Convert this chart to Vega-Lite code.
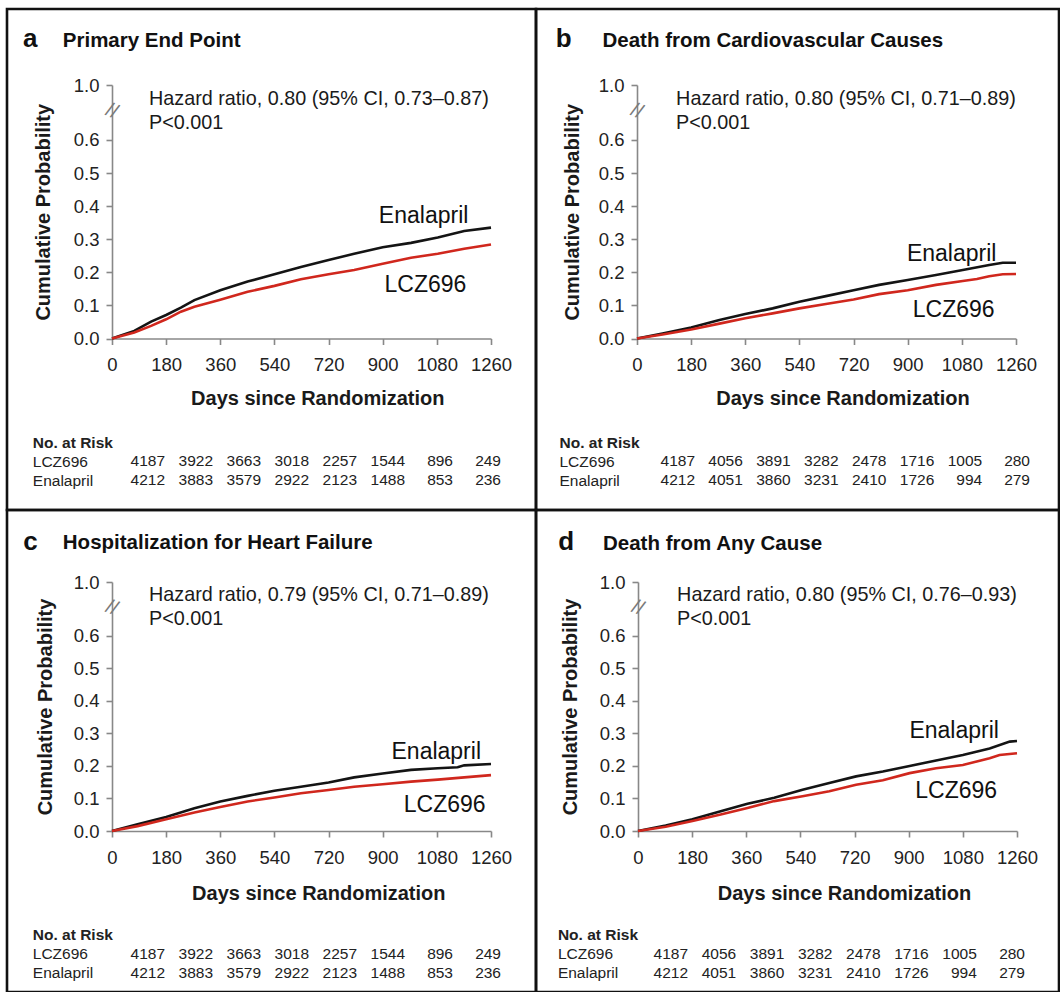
{
  "$schema": "https://vega.github.io/schema/vega-lite/v6.json",
  "padding": {"left": 5, "top": 7, "right": 0, "bottom": 0},
  "config": {
    "font": "Liberation Sans",
    "view": {"stroke": "#111111", "strokeWidth": 2.6},
    "axis": {"grid": false}
  },
  "datasets": {
    "curves": [
      {"panel":"a","group":"Enalapril","day":0,"p":0},{"panel":"a","group":"Enalapril","day":74,"p":0.023},{"panel":"a","group":"Enalapril","day":130,"p":0.051},{"panel":"a","group":"Enalapril","day":180,"p":0.071},{"panel":"a","group":"Enalapril","day":229,"p":0.093},{"panel":"a","group":"Enalapril","day":274,"p":0.116},{"panel":"a","group":"Enalapril","day":360,"p":0.146},{"panel":"a","group":"Enalapril","day":451,"p":0.172},{"panel":"a","group":"Enalapril","day":540,"p":0.194},{"panel":"a","group":"Enalapril","day":628,"p":0.216},{"panel":"a","group":"Enalapril","day":720,"p":0.237},{"panel":"a","group":"Enalapril","day":805,"p":0.256},{"panel":"a","group":"Enalapril","day":900,"p":0.276},{"panel":"a","group":"Enalapril","day":994,"p":0.289},{"panel":"a","group":"Enalapril","day":1083,"p":0.305},{"panel":"a","group":"Enalapril","day":1171,"p":0.325},{"panel":"a","group":"Enalapril","day":1260,"p":0.335},
      {"panel":"a","group":"LCZ696","day":0,"p":0},{"panel":"a","group":"LCZ696","day":74,"p":0.018},{"panel":"a","group":"LCZ696","day":130,"p":0.038},{"panel":"a","group":"LCZ696","day":180,"p":0.058},{"panel":"a","group":"LCZ696","day":229,"p":0.081},{"panel":"a","group":"LCZ696","day":274,"p":0.096},{"panel":"a","group":"LCZ696","day":360,"p":0.117},{"panel":"a","group":"LCZ696","day":451,"p":0.141},{"panel":"a","group":"LCZ696","day":540,"p":0.159},{"panel":"a","group":"LCZ696","day":628,"p":0.179},{"panel":"a","group":"LCZ696","day":720,"p":0.194},{"panel":"a","group":"LCZ696","day":805,"p":0.207},{"panel":"a","group":"LCZ696","day":900,"p":0.226},{"panel":"a","group":"LCZ696","day":994,"p":0.244},{"panel":"a","group":"LCZ696","day":1083,"p":0.256},{"panel":"a","group":"LCZ696","day":1171,"p":0.271},{"panel":"a","group":"LCZ696","day":1260,"p":0.284},
      {"panel":"b","group":"Enalapril","day":0,"p":0},{"panel":"b","group":"Enalapril","day":85,"p":0.015},{"panel":"b","group":"Enalapril","day":180,"p":0.033},{"panel":"b","group":"Enalapril","day":274,"p":0.056},{"panel":"b","group":"Enalapril","day":360,"p":0.074},{"panel":"b","group":"Enalapril","day":451,"p":0.091},{"panel":"b","group":"Enalapril","day":540,"p":0.111},{"panel":"b","group":"Enalapril","day":628,"p":0.128},{"panel":"b","group":"Enalapril","day":720,"p":0.146},{"panel":"b","group":"Enalapril","day":805,"p":0.162},{"panel":"b","group":"Enalapril","day":900,"p":0.177},{"panel":"b","group":"Enalapril","day":994,"p":0.192},{"panel":"b","group":"Enalapril","day":1083,"p":0.207},{"panel":"b","group":"Enalapril","day":1171,"p":0.222},{"panel":"b","group":"Enalapril","day":1216,"p":0.229},{"panel":"b","group":"Enalapril","day":1260,"p":0.229},
      {"panel":"b","group":"LCZ696","day":0,"p":0},{"panel":"b","group":"LCZ696","day":85,"p":0.012},{"panel":"b","group":"LCZ696","day":180,"p":0.027},{"panel":"b","group":"LCZ696","day":274,"p":0.045},{"panel":"b","group":"LCZ696","day":360,"p":0.061},{"panel":"b","group":"LCZ696","day":451,"p":0.076},{"panel":"b","group":"LCZ696","day":540,"p":0.091},{"panel":"b","group":"LCZ696","day":628,"p":0.104},{"panel":"b","group":"LCZ696","day":720,"p":0.118},{"panel":"b","group":"LCZ696","day":805,"p":0.134},{"panel":"b","group":"LCZ696","day":900,"p":0.146},{"panel":"b","group":"LCZ696","day":994,"p":0.162},{"panel":"b","group":"LCZ696","day":1083,"p":0.174},{"panel":"b","group":"LCZ696","day":1130,"p":0.18},{"panel":"b","group":"LCZ696","day":1171,"p":0.188},{"panel":"b","group":"LCZ696","day":1216,"p":0.194},{"panel":"b","group":"LCZ696","day":1260,"p":0.195},
      {"panel":"c","group":"Enalapril","day":0,"p":0},{"panel":"c","group":"Enalapril","day":85,"p":0.021},{"panel":"c","group":"Enalapril","day":180,"p":0.043},{"panel":"c","group":"Enalapril","day":274,"p":0.07},{"panel":"c","group":"Enalapril","day":360,"p":0.091},{"panel":"c","group":"Enalapril","day":451,"p":0.108},{"panel":"c","group":"Enalapril","day":540,"p":0.124},{"panel":"c","group":"Enalapril","day":628,"p":0.136},{"panel":"c","group":"Enalapril","day":720,"p":0.149},{"panel":"c","group":"Enalapril","day":805,"p":0.165},{"panel":"c","group":"Enalapril","day":900,"p":0.177},{"panel":"c","group":"Enalapril","day":994,"p":0.188},{"panel":"c","group":"Enalapril","day":1083,"p":0.193},{"panel":"c","group":"Enalapril","day":1149,"p":0.196},{"panel":"c","group":"Enalapril","day":1171,"p":0.202},{"panel":"c","group":"Enalapril","day":1260,"p":0.206},
      {"panel":"c","group":"LCZ696","day":0,"p":0},{"panel":"c","group":"LCZ696","day":85,"p":0.015},{"panel":"c","group":"LCZ696","day":180,"p":0.036},{"panel":"c","group":"LCZ696","day":274,"p":0.057},{"panel":"c","group":"LCZ696","day":360,"p":0.074},{"panel":"c","group":"LCZ696","day":451,"p":0.091},{"panel":"c","group":"LCZ696","day":540,"p":0.103},{"panel":"c","group":"LCZ696","day":628,"p":0.116},{"panel":"c","group":"LCZ696","day":720,"p":0.126},{"panel":"c","group":"LCZ696","day":805,"p":0.136},{"panel":"c","group":"LCZ696","day":900,"p":0.144},{"panel":"c","group":"LCZ696","day":994,"p":0.152},{"panel":"c","group":"LCZ696","day":1083,"p":0.158},{"panel":"c","group":"LCZ696","day":1171,"p":0.165},{"panel":"c","group":"LCZ696","day":1260,"p":0.172},
      {"panel":"d","group":"Enalapril","day":0,"p":0},{"panel":"d","group":"Enalapril","day":92,"p":0.017},{"panel":"d","group":"Enalapril","day":181,"p":0.036},{"panel":"d","group":"Enalapril","day":275,"p":0.061},{"panel":"d","group":"Enalapril","day":364,"p":0.084},{"panel":"d","group":"Enalapril","day":453,"p":0.102},{"panel":"d","group":"Enalapril","day":547,"p":0.127},{"panel":"d","group":"Enalapril","day":636,"p":0.148},{"panel":"d","group":"Enalapril","day":725,"p":0.168},{"panel":"d","group":"Enalapril","day":814,"p":0.183},{"panel":"d","group":"Enalapril","day":903,"p":0.2},{"panel":"d","group":"Enalapril","day":991,"p":0.217},{"panel":"d","group":"Enalapril","day":1080,"p":0.234},{"panel":"d","group":"Enalapril","day":1169,"p":0.254},{"panel":"d","group":"Enalapril","day":1236,"p":0.275},{"panel":"d","group":"Enalapril","day":1260,"p":0.277},
      {"panel":"d","group":"LCZ696","day":0,"p":0},{"panel":"d","group":"LCZ696","day":92,"p":0.013},{"panel":"d","group":"LCZ696","day":181,"p":0.031},{"panel":"d","group":"LCZ696","day":275,"p":0.051},{"panel":"d","group":"LCZ696","day":364,"p":0.071},{"panel":"d","group":"LCZ696","day":453,"p":0.092},{"panel":"d","group":"LCZ696","day":547,"p":0.107},{"panel":"d","group":"LCZ696","day":636,"p":0.122},{"panel":"d","group":"LCZ696","day":725,"p":0.142},{"panel":"d","group":"LCZ696","day":814,"p":0.156},{"panel":"d","group":"LCZ696","day":903,"p":0.178},{"panel":"d","group":"LCZ696","day":991,"p":0.193},{"panel":"d","group":"LCZ696","day":1080,"p":0.203},{"panel":"d","group":"LCZ696","day":1169,"p":0.224},{"panel":"d","group":"LCZ696","day":1202,"p":0.234},{"panel":"d","group":"LCZ696","day":1260,"p":0.239}
    ],
    "risk": [
      {"panel":"a","row":"LCZ696","day":0,"n":"4187"},{"panel":"a","row":"LCZ696","day":180,"n":"3922"},{"panel":"a","row":"LCZ696","day":360,"n":"3663"},{"panel":"a","row":"LCZ696","day":540,"n":"3018"},{"panel":"a","row":"LCZ696","day":720,"n":"2257"},{"panel":"a","row":"LCZ696","day":900,"n":"1544"},{"panel":"a","row":"LCZ696","day":1080,"n":"896"},{"panel":"a","row":"LCZ696","day":1260,"n":"249"},
      {"panel":"a","row":"Enalapril","day":0,"n":"4212"},{"panel":"a","row":"Enalapril","day":180,"n":"3883"},{"panel":"a","row":"Enalapril","day":360,"n":"3579"},{"panel":"a","row":"Enalapril","day":540,"n":"2922"},{"panel":"a","row":"Enalapril","day":720,"n":"2123"},{"panel":"a","row":"Enalapril","day":900,"n":"1488"},{"panel":"a","row":"Enalapril","day":1080,"n":"853"},{"panel":"a","row":"Enalapril","day":1260,"n":"236"},
      {"panel":"b","row":"LCZ696","day":0,"n":"4187"},{"panel":"b","row":"LCZ696","day":180,"n":"4056"},{"panel":"b","row":"LCZ696","day":360,"n":"3891"},{"panel":"b","row":"LCZ696","day":540,"n":"3282"},{"panel":"b","row":"LCZ696","day":720,"n":"2478"},{"panel":"b","row":"LCZ696","day":900,"n":"1716"},{"panel":"b","row":"LCZ696","day":1080,"n":"1005"},{"panel":"b","row":"LCZ696","day":1260,"n":"280"},
      {"panel":"b","row":"Enalapril","day":0,"n":"4212"},{"panel":"b","row":"Enalapril","day":180,"n":"4051"},{"panel":"b","row":"Enalapril","day":360,"n":"3860"},{"panel":"b","row":"Enalapril","day":540,"n":"3231"},{"panel":"b","row":"Enalapril","day":720,"n":"2410"},{"panel":"b","row":"Enalapril","day":900,"n":"1726"},{"panel":"b","row":"Enalapril","day":1080,"n":"994"},{"panel":"b","row":"Enalapril","day":1260,"n":"279"},
      {"panel":"c","row":"LCZ696","day":0,"n":"4187"},{"panel":"c","row":"LCZ696","day":180,"n":"3922"},{"panel":"c","row":"LCZ696","day":360,"n":"3663"},{"panel":"c","row":"LCZ696","day":540,"n":"3018"},{"panel":"c","row":"LCZ696","day":720,"n":"2257"},{"panel":"c","row":"LCZ696","day":900,"n":"1544"},{"panel":"c","row":"LCZ696","day":1080,"n":"896"},{"panel":"c","row":"LCZ696","day":1260,"n":"249"},
      {"panel":"c","row":"Enalapril","day":0,"n":"4212"},{"panel":"c","row":"Enalapril","day":180,"n":"3883"},{"panel":"c","row":"Enalapril","day":360,"n":"3579"},{"panel":"c","row":"Enalapril","day":540,"n":"2922"},{"panel":"c","row":"Enalapril","day":720,"n":"2123"},{"panel":"c","row":"Enalapril","day":900,"n":"1488"},{"panel":"c","row":"Enalapril","day":1080,"n":"853"},{"panel":"c","row":"Enalapril","day":1260,"n":"236"},
      {"panel":"d","row":"LCZ696","day":0,"n":"4187"},{"panel":"d","row":"LCZ696","day":180,"n":"4056"},{"panel":"d","row":"LCZ696","day":360,"n":"3891"},{"panel":"d","row":"LCZ696","day":540,"n":"3282"},{"panel":"d","row":"LCZ696","day":720,"n":"2478"},{"panel":"d","row":"LCZ696","day":900,"n":"1716"},{"panel":"d","row":"LCZ696","day":1080,"n":"1005"},{"panel":"d","row":"LCZ696","day":1260,"n":"280"},
      {"panel":"d","row":"Enalapril","day":0,"n":"4212"},{"panel":"d","row":"Enalapril","day":180,"n":"4051"},{"panel":"d","row":"Enalapril","day":360,"n":"3860"},{"panel":"d","row":"Enalapril","day":540,"n":"3231"},{"panel":"d","row":"Enalapril","day":720,"n":"2410"},{"panel":"d","row":"Enalapril","day":900,"n":"1726"},{"panel":"d","row":"Enalapril","day":1080,"n":"994"},{"panel":"d","row":"Enalapril","day":1260,"n":"279"}
    ],
    "notes": [
      {"panel":"a","day":123,"p":0.724,"text":"Hazard ratio, 0.80 (95% CI, 0.73–0.87)"},{"panel":"a","day":123,"p":0.651,"text":"P<0.001"},
      {"panel":"b","day":130,"p":0.724,"text":"Hazard ratio, 0.80 (95% CI, 0.71–0.89)"},{"panel":"b","day":130,"p":0.651,"text":"P<0.001"},
      {"panel":"c","day":123,"p":0.727,"text":"Hazard ratio, 0.79 (95% CI, 0.71–0.89)"},{"panel":"c","day":123,"p":0.652,"text":"P<0.001"},
      {"panel":"d","day":130,"p":0.727,"text":"Hazard ratio, 0.80 (95% CI, 0.76–0.93)"},{"panel":"d","day":130,"p":0.652,"text":"P<0.001"}
    ],
    "labels": [
      {"panel":"a","day":1036,"p":0.369,"text":"Enalapril"},{"panel":"a","day":1042,"p":0.163,"text":"LCZ696"},
      {"panel":"b","day":1046,"p":0.256,"text":"Enalapril"},{"panel":"b","day":1053,"p":0.087,"text":"LCZ696"},
      {"panel":"c","day":1078,"p":0.242,"text":"Enalapril"},{"panel":"c","day":1106,"p":0.081,"text":"LCZ696"},
      {"panel":"d","day":1051,"p":0.309,"text":"Enalapril"},{"panel":"d","day":1058,"p":0.122,"text":"LCZ696"}
    ],
    "breaks": [
      {"panel":"a","day":0,"p":0.687},{"panel":"b","day":0,"p":0.687},{"panel":"c","day":0,"p":0.687},{"panel":"d","day":0,"p":0.687}
    ]
  },
  "columns": 2,
  "spacing": 0,
  "bounds": "flush",
  "concat": [
    {
      "width": 529, "height": 501,
      "title": {"text": "a", "anchor": "start", "frame": "bounds", "baseline": "alphabetic", "offset": -64.3, "dx": 16, "fontSize": 26, "fontWeight": "bold", "color": "#111111"},
      "resolve": {"scale": {"x": "independent", "y": "independent"}},
      "layer": [
        {
          "data": {"name": "curves"}, "transform": [{"filter": "datum.panel === 'a'"}],
          "mark": {"type": "line", "strokeWidth": 2.6},
          "encoding": {
            "x": {"field": "day", "type": "quantitative", "scale": {"domain": [0, 1260], "range": [105, 484]},
              "axis": {"orient": "bottom", "values": [0,180,360,540,720,900,1080,1260], "format": "d", "offset": -171.5, "domainColor": "#888888", "domainWidth": 1.6, "tickColor": "#888888", "tickWidth": 1.6, "tickSize": 6, "labelFontSize": 18.5, "labelColor": "#222222", "labelPadding": 11, "labelFlush": false, "labelOverlap": false, "labelBound": false, "title": "Days since Randomization", "titleFontSize": 20, "titleFontWeight": "bold", "titleColor": "#1a1a1a", "titleX": 310.3, "titleY": 66.2, "titleAlign": "center", "titleBaseline": "alphabetic"}},
            "y": {"field": "p", "type": "quantitative", "scale": {"domain": [0, 0.766], "range": [329.5, 76]},
              "axis": {"orient": "left", "values": [0,0.1,0.2,0.3,0.4,0.5,0.6,0.766], "labelExpr": "datum.value > 0.7 ? '1.0' : format(datum.value, '.1f')", "offset": -105, "domainColor": "#888888", "domainWidth": 1.6, "tickColor": "#888888", "tickWidth": 1.6, "tickSize": 6, "labelFontSize": 18.5, "labelColor": "#222222", "labelPadding": 7, "labelFlush": false, "labelOverlap": false, "labelBound": false, "title": "Cumulative Probability", "titleFontSize": 20, "titleFontWeight": "bold", "titleColor": "#1a1a1a", "titleX": -62.5, "titleBaseline": "alphabetic"}},
            "color": {"field": "group", "type": "nominal", "scale": {"domain": ["Enalapril", "LCZ696"], "range": ["#141414", "#d0271d"]}, "legend": null}
          }
        },
        {
          "data": {"name": "notes"}, "transform": [{"filter": "datum.panel === 'a'"}],
          "mark": {"type": "text", "align": "left", "baseline": "middle", "fontSize": 19.8, "color": "#1a1a1a"},
          "encoding": {
            "x": {"field": "day", "type": "quantitative", "scale": {"domain": [0, 1260], "range": [105, 484]}, "axis": null},
            "y": {"field": "p", "type": "quantitative", "scale": {"domain": [0, 0.766], "range": [329.5, 76]}, "axis": null},
            "text": {"field": "text"}
          }
        },
        {
          "data": {"name": "labels"}, "transform": [{"filter": "datum.panel === 'a'"}],
          "mark": {"type": "text", "align": "center", "baseline": "middle", "fontSize": 23, "color": "#111111"},
          "encoding": {
            "x": {"field": "day", "type": "quantitative", "scale": {"domain": [0, 1260], "range": [105, 484]}, "axis": null},
            "y": {"field": "p", "type": "quantitative", "scale": {"domain": [0, 0.766], "range": [329.5, 76]}, "axis": null},
            "text": {"field": "text"}
          }
        },
        {
          "data": {"name": "breaks"}, "transform": [{"filter": "datum.panel === 'a'"}],
          "mark": {"type": "text", "align": "center", "baseline": "middle", "fontSize": 20, "angle": 22, "color": "#7a7a7a", "text": "//"},
          "encoding": {
            "x": {"field": "day", "type": "quantitative", "scale": {"domain": [0, 1260], "range": [105, 484]}, "axis": null},
            "y": {"field": "p", "type": "quantitative", "scale": {"domain": [0, 0.766], "range": [329.5, 76]}, "axis": null}
          }
        },
        {
          "data": {"name": "risk"}, "transform": [{"filter": "datum.panel === 'a'"}],
          "mark": {"type": "text", "align": "right", "baseline": "middle", "fontSize": 15.5, "color": "#222222"},
          "encoding": {
            "x": {"field": "day", "type": "quantitative", "scale": {"domain": [0, 1260], "range": [158, 494]},
              "axis": {"orient": "top", "domain": false, "ticks": false, "labels": false, "grid": false, "title": "Primary End Point", "titleX": 55.3, "titleY": 37.5, "titleAlign": "left", "titleBaseline": "alphabetic", "titleFontSize": 20.5, "titleFontWeight": "bold", "titleColor": "#111111"}},
            "y": {"field": "row", "type": "nominal", "scale": {"type": "point", "domain": ["No. at Risk", "LCZ696", "Enalapril"], "range": [433.2, 471.2], "padding": 0},
              "axis": {"orient": "left", "offset": -25.3, "domain": false, "ticks": false, "tickSize": 0, "labelPadding": 0, "labelAlign": "left", "labelFontSize": 15.5, "labelColor": "#222222", "labelFontWeight": {"condition": {"test": "datum.value === 'No. at Risk'", "value": "bold"}, "value": "normal"}, "title": null, "grid": false}},
            "text": {"field": "n", "type": "nominal"}
          }
        }
      ]
    },
    {
      "width": 523, "height": 501,
      "title": {"text": "b", "anchor": "start", "frame": "bounds", "baseline": "alphabetic", "offset": -64.3, "dx": 19.7, "fontSize": 26, "fontWeight": "bold", "color": "#111111"},
      "resolve": {"scale": {"x": "independent", "y": "independent"}},
      "layer": [
        {
          "data": {"name": "curves"}, "transform": [{"filter": "datum.panel === 'b'"}],
          "mark": {"type": "line", "strokeWidth": 2.6},
          "encoding": {
            "x": {"field": "day", "type": "quantitative", "scale": {"domain": [0, 1260], "range": [101, 480]},
              "axis": {"orient": "bottom", "values": [0,180,360,540,720,900,1080,1260], "format": "d", "offset": -171.5, "domainColor": "#888888", "domainWidth": 1.6, "tickColor": "#888888", "tickWidth": 1.6, "tickSize": 6, "labelFontSize": 18.5, "labelColor": "#222222", "labelPadding": 11, "labelFlush": false, "labelOverlap": false, "labelBound": false, "title": "Days since Randomization", "titleFontSize": 20, "titleFontWeight": "bold", "titleColor": "#1a1a1a", "titleX": 306.5, "titleY": 66.2, "titleAlign": "center", "titleBaseline": "alphabetic"}},
            "y": {"field": "p", "type": "quantitative", "scale": {"domain": [0, 0.766], "range": [329.5, 76]},
              "axis": {"orient": "left", "values": [0,0.1,0.2,0.3,0.4,0.5,0.6,0.766], "labelExpr": "datum.value > 0.7 ? '1.0' : format(datum.value, '.1f')", "offset": -101, "domainColor": "#888888", "domainWidth": 1.6, "tickColor": "#888888", "tickWidth": 1.6, "tickSize": 6, "labelFontSize": 18.5, "labelColor": "#222222", "labelPadding": 7, "labelFlush": false, "labelOverlap": false, "labelBound": false, "title": "Cumulative Probability", "titleFontSize": 20, "titleFontWeight": "bold", "titleColor": "#1a1a1a", "titleX": -59, "titleBaseline": "alphabetic"}},
            "color": {"field": "group", "type": "nominal", "scale": {"domain": ["Enalapril", "LCZ696"], "range": ["#141414", "#d0271d"]}, "legend": null}
          }
        },
        {
          "data": {"name": "notes"}, "transform": [{"filter": "datum.panel === 'b'"}],
          "mark": {"type": "text", "align": "left", "baseline": "middle", "fontSize": 19.8, "color": "#1a1a1a"},
          "encoding": {
            "x": {"field": "day", "type": "quantitative", "scale": {"domain": [0, 1260], "range": [101, 480]}, "axis": null},
            "y": {"field": "p", "type": "quantitative", "scale": {"domain": [0, 0.766], "range": [329.5, 76]}, "axis": null},
            "text": {"field": "text"}
          }
        },
        {
          "data": {"name": "labels"}, "transform": [{"filter": "datum.panel === 'b'"}],
          "mark": {"type": "text", "align": "center", "baseline": "middle", "fontSize": 23, "color": "#111111"},
          "encoding": {
            "x": {"field": "day", "type": "quantitative", "scale": {"domain": [0, 1260], "range": [101, 480]}, "axis": null},
            "y": {"field": "p", "type": "quantitative", "scale": {"domain": [0, 0.766], "range": [329.5, 76]}, "axis": null},
            "text": {"field": "text"}
          }
        },
        {
          "data": {"name": "breaks"}, "transform": [{"filter": "datum.panel === 'b'"}],
          "mark": {"type": "text", "align": "center", "baseline": "middle", "fontSize": 20, "angle": 22, "color": "#7a7a7a", "text": "//"},
          "encoding": {
            "x": {"field": "day", "type": "quantitative", "scale": {"domain": [0, 1260], "range": [101, 480]}, "axis": null},
            "y": {"field": "p", "type": "quantitative", "scale": {"domain": [0, 0.766], "range": [329.5, 76]}, "axis": null}
          }
        },
        {
          "data": {"name": "risk"}, "transform": [{"filter": "datum.panel === 'b'"}],
          "mark": {"type": "text", "align": "right", "baseline": "middle", "fontSize": 15.5, "color": "#222222"},
          "encoding": {
            "x": {"field": "day", "type": "quantitative", "scale": {"domain": [0, 1260], "range": [159, 494]},
              "axis": {"orient": "top", "domain": false, "ticks": false, "labels": false, "grid": false, "title": "Death from Cardiovascular Causes", "titleX": 66, "titleY": 37.5, "titleAlign": "left", "titleBaseline": "alphabetic", "titleFontSize": 20.5, "titleFontWeight": "bold", "titleColor": "#111111"}},
            "y": {"field": "row", "type": "nominal", "scale": {"type": "point", "domain": ["No. at Risk", "LCZ696", "Enalapril"], "range": [433.2, 471.2], "padding": 0},
              "axis": {"orient": "left", "offset": -23, "domain": false, "ticks": false, "tickSize": 0, "labelPadding": 0, "labelAlign": "left", "labelFontSize": 15.5, "labelColor": "#222222", "labelFontWeight": {"condition": {"test": "datum.value === 'No. at Risk'", "value": "bold"}, "value": "normal"}, "title": null, "grid": false}},
            "text": {"field": "n", "type": "nominal"}
          }
        }
      ]
    },
    {
      "width": 529, "height": 482,
      "title": {"text": "c", "anchor": "start", "frame": "bounds", "baseline": "alphabetic", "offset": -65.5, "dx": 16.3, "fontSize": 26, "fontWeight": "bold", "color": "#111111"},
      "resolve": {"scale": {"x": "independent", "y": "independent"}},
      "layer": [
        {
          "data": {"name": "curves"}, "transform": [{"filter": "datum.panel === 'c'"}],
          "mark": {"type": "line", "strokeWidth": 2.6},
          "encoding": {
            "x": {"field": "day", "type": "quantitative", "scale": {"domain": [0, 1260], "range": [105, 484]},
              "axis": {"orient": "bottom", "values": [0,180,360,540,720,900,1080,1260], "format": "d", "offset": -161, "domainColor": "#888888", "domainWidth": 1.6, "tickColor": "#888888", "tickWidth": 1.6, "tickSize": 6, "labelFontSize": 18.5, "labelColor": "#222222", "labelPadding": 11, "labelFlush": false, "labelOverlap": false, "labelBound": false, "title": "Days since Randomization", "titleFontSize": 20, "titleFontWeight": "bold", "titleColor": "#1a1a1a", "titleX": 311.3, "titleY": 68.9, "titleAlign": "center", "titleBaseline": "alphabetic"}},
            "y": {"field": "p", "type": "quantitative", "scale": {"domain": [0, 0.766], "range": [321, 72]},
              "axis": {"orient": "left", "values": [0,0.1,0.2,0.3,0.4,0.5,0.6,0.766], "labelExpr": "datum.value > 0.7 ? '1.0' : format(datum.value, '.1f')", "offset": -105, "domainColor": "#888888", "domainWidth": 1.6, "tickColor": "#888888", "tickWidth": 1.6, "tickSize": 6, "labelFontSize": 18.5, "labelColor": "#222222", "labelPadding": 7, "labelFlush": false, "labelOverlap": false, "labelBound": false, "title": "Cumulative Probability", "titleFontSize": 20, "titleFontWeight": "bold", "titleColor": "#1a1a1a", "titleX": -61, "titleBaseline": "alphabetic"}},
            "color": {"field": "group", "type": "nominal", "scale": {"domain": ["Enalapril", "LCZ696"], "range": ["#141414", "#d0271d"]}, "legend": null}
          }
        },
        {
          "data": {"name": "notes"}, "transform": [{"filter": "datum.panel === 'c'"}],
          "mark": {"type": "text", "align": "left", "baseline": "middle", "fontSize": 19.8, "color": "#1a1a1a"},
          "encoding": {
            "x": {"field": "day", "type": "quantitative", "scale": {"domain": [0, 1260], "range": [105, 484]}, "axis": null},
            "y": {"field": "p", "type": "quantitative", "scale": {"domain": [0, 0.766], "range": [321, 72]}, "axis": null},
            "text": {"field": "text"}
          }
        },
        {
          "data": {"name": "labels"}, "transform": [{"filter": "datum.panel === 'c'"}],
          "mark": {"type": "text", "align": "center", "baseline": "middle", "fontSize": 23, "color": "#111111"},
          "encoding": {
            "x": {"field": "day", "type": "quantitative", "scale": {"domain": [0, 1260], "range": [105, 484]}, "axis": null},
            "y": {"field": "p", "type": "quantitative", "scale": {"domain": [0, 0.766], "range": [321, 72]}, "axis": null},
            "text": {"field": "text"}
          }
        },
        {
          "data": {"name": "breaks"}, "transform": [{"filter": "datum.panel === 'c'"}],
          "mark": {"type": "text", "align": "center", "baseline": "middle", "fontSize": 20, "angle": 22, "color": "#7a7a7a", "text": "//"},
          "encoding": {
            "x": {"field": "day", "type": "quantitative", "scale": {"domain": [0, 1260], "range": [105, 484]}, "axis": null},
            "y": {"field": "p", "type": "quantitative", "scale": {"domain": [0, 0.766], "range": [321, 72]}, "axis": null}
          }
        },
        {
          "data": {"name": "risk"}, "transform": [{"filter": "datum.panel === 'c'"}],
          "mark": {"type": "text", "align": "right", "baseline": "middle", "fontSize": 15.5, "color": "#222222"},
          "encoding": {
            "x": {"field": "day", "type": "quantitative", "scale": {"domain": [0, 1260], "range": [158, 494]},
              "axis": {"orient": "top", "domain": false, "ticks": false, "labels": false, "grid": false, "title": "Hospitalization for Heart Failure", "titleX": 55.3, "titleY": 38.7, "titleAlign": "left", "titleBaseline": "alphabetic", "titleFontSize": 20.5, "titleFontWeight": "bold", "titleColor": "#111111"}},
            "y": {"field": "row", "type": "nominal", "scale": {"type": "point", "domain": ["No. at Risk", "LCZ696", "Enalapril"], "range": [424.8, 462.5], "padding": 0},
              "axis": {"orient": "left", "offset": -25.3, "domain": false, "ticks": false, "tickSize": 0, "labelPadding": 0, "labelAlign": "left", "labelFontSize": 15.5, "labelColor": "#222222", "labelFontWeight": {"condition": {"test": "datum.value === 'No. at Risk'", "value": "bold"}, "value": "normal"}, "title": null, "grid": false}},
            "text": {"field": "n", "type": "nominal"}
          }
        }
      ]
    },
    {
      "width": 523, "height": 482,
      "title": {"text": "d", "anchor": "start", "frame": "bounds", "baseline": "alphabetic", "offset": -65.5, "dx": 22.3, "fontSize": 26, "fontWeight": "bold", "color": "#111111"},
      "resolve": {"scale": {"x": "independent", "y": "independent"}},
      "layer": [
        {
          "data": {"name": "curves"}, "transform": [{"filter": "datum.panel === 'd'"}],
          "mark": {"type": "line", "strokeWidth": 2.6},
          "encoding": {
            "x": {"field": "day", "type": "quantitative", "scale": {"domain": [0, 1260], "range": [102, 481]},
              "axis": {"orient": "bottom", "values": [0,180,360,540,720,900,1080,1260], "format": "d", "offset": -161, "domainColor": "#888888", "domainWidth": 1.6, "tickColor": "#888888", "tickWidth": 1.6, "tickSize": 6, "labelFontSize": 18.5, "labelColor": "#222222", "labelPadding": 11, "labelFlush": false, "labelOverlap": false, "labelBound": false, "title": "Days since Randomization", "titleFontSize": 20, "titleFontWeight": "bold", "titleColor": "#1a1a1a", "titleX": 308, "titleY": 68.9, "titleAlign": "center", "titleBaseline": "alphabetic"}},
            "y": {"field": "p", "type": "quantitative", "scale": {"domain": [0, 0.766], "range": [321, 72]},
              "axis": {"orient": "left", "values": [0,0.1,0.2,0.3,0.4,0.5,0.6,0.766], "labelExpr": "datum.value > 0.7 ? '1.0' : format(datum.value, '.1f')", "offset": -102, "domainColor": "#888888", "domainWidth": 1.6, "tickColor": "#888888", "tickWidth": 1.6, "tickSize": 6, "labelFontSize": 18.5, "labelColor": "#222222", "labelPadding": 7, "labelFlush": false, "labelOverlap": false, "labelBound": false, "title": "Cumulative Probability", "titleFontSize": 20, "titleFontWeight": "bold", "titleColor": "#1a1a1a", "titleX": -62, "titleBaseline": "alphabetic"}},
            "color": {"field": "group", "type": "nominal", "scale": {"domain": ["Enalapril", "LCZ696"], "range": ["#141414", "#d0271d"]}, "legend": null}
          }
        },
        {
          "data": {"name": "notes"}, "transform": [{"filter": "datum.panel === 'd'"}],
          "mark": {"type": "text", "align": "left", "baseline": "middle", "fontSize": 19.8, "color": "#1a1a1a"},
          "encoding": {
            "x": {"field": "day", "type": "quantitative", "scale": {"domain": [0, 1260], "range": [102, 481]}, "axis": null},
            "y": {"field": "p", "type": "quantitative", "scale": {"domain": [0, 0.766], "range": [321, 72]}, "axis": null},
            "text": {"field": "text"}
          }
        },
        {
          "data": {"name": "labels"}, "transform": [{"filter": "datum.panel === 'd'"}],
          "mark": {"type": "text", "align": "center", "baseline": "middle", "fontSize": 23, "color": "#111111"},
          "encoding": {
            "x": {"field": "day", "type": "quantitative", "scale": {"domain": [0, 1260], "range": [102, 481]}, "axis": null},
            "y": {"field": "p", "type": "quantitative", "scale": {"domain": [0, 0.766], "range": [321, 72]}, "axis": null},
            "text": {"field": "text"}
          }
        },
        {
          "data": {"name": "breaks"}, "transform": [{"filter": "datum.panel === 'd'"}],
          "mark": {"type": "text", "align": "center", "baseline": "middle", "fontSize": 20, "angle": 22, "color": "#7a7a7a", "text": "//"},
          "encoding": {
            "x": {"field": "day", "type": "quantitative", "scale": {"domain": [0, 1260], "range": [102, 481]}, "axis": null},
            "y": {"field": "p", "type": "quantitative", "scale": {"domain": [0, 0.766], "range": [321, 72]}, "axis": null}
          }
        },
        {
          "data": {"name": "risk"}, "transform": [{"filter": "datum.panel === 'd'"}],
          "mark": {"type": "text", "align": "right", "baseline": "middle", "fontSize": 15.5, "color": "#222222"},
          "encoding": {
            "x": {"field": "day", "type": "quantitative", "scale": {"domain": [0, 1260], "range": [152, 489]},
              "axis": {"orient": "top", "domain": false, "ticks": false, "labels": false, "grid": false, "title": "Death from Any Cause", "titleX": 66.5, "titleY": 39, "titleAlign": "left", "titleBaseline": "alphabetic", "titleFontSize": 20.5, "titleFontWeight": "bold", "titleColor": "#111111"}},
            "y": {"field": "row", "type": "nominal", "scale": {"type": "point", "domain": ["No. at Risk", "LCZ696", "Enalapril"], "range": [424.8, 462.5], "padding": 0},
              "axis": {"orient": "left", "offset": -21.4, "domain": false, "ticks": false, "tickSize": 0, "labelPadding": 0, "labelAlign": "left", "labelFontSize": 15.5, "labelColor": "#222222", "labelFontWeight": {"condition": {"test": "datum.value === 'No. at Risk'", "value": "bold"}, "value": "normal"}, "title": null, "grid": false}},
            "text": {"field": "n", "type": "nominal"}
          }
        }
      ]
    }
  ]
}
